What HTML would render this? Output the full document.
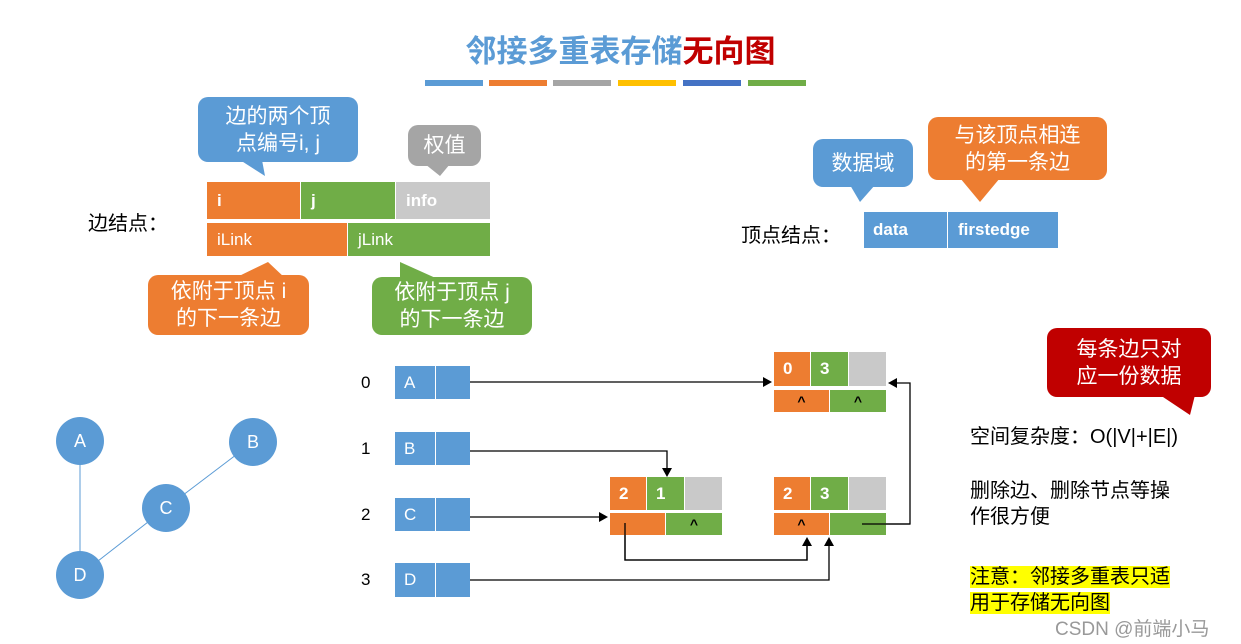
<!DOCTYPE html>
<html><head><meta charset="utf-8"><style>
body{margin:0;width:1241px;height:644px;background:#fff;position:relative;overflow:hidden;font-family:"Liberation Sans","Noto Sans CJK SC",sans-serif}
.a{position:absolute}
.c{position:absolute;display:flex;align-items:center;box-sizing:border-box;color:#fff;font-weight:bold;font-size:17px}
.t{position:absolute;color:#fff;text-align:center;font-size:21px;line-height:27px;border-radius:10px;box-sizing:border-box;display:flex;align-items:center;justify-content:center}
.o{background:#ed7d31}.g{background:#70ad47}.y{background:#c9c9c9}.b{background:#5b9bd5}
</style></head><body>
<div class="a" style="left:0;width:1241px;top:26px;text-align:center;font-size:31px;font-weight:bold;color:#5b9bd5">邻接多重表存储<span style="color:#c00000">无向图</span></div>
<div class="a" style="left:425px;top:80px;width:58px;height:6px;background:#5b9bd5"></div>
<div class="a" style="left:489px;top:80px;width:58px;height:6px;background:#ed7d31"></div>
<div class="a" style="left:553px;top:80px;width:58px;height:6px;background:#a5a5a5"></div>
<div class="a" style="left:618px;top:80px;width:58px;height:6px;background:#ffc000"></div>
<div class="a" style="left:683px;top:80px;width:58px;height:6px;background:#4472c4"></div>
<div class="a" style="left:748px;top:80px;width:58px;height:6px;background:#70ad47"></div>

<svg class="a" style="left:0;top:0" width="1241" height="644">
<polygon points="240,160 262,160 265,176" fill="#5b9bd5"/>
<polygon points="425,164 450,164 440,176" fill="#a5a5a5"/>
<polygon points="235,278 285,278 268,262" fill="#ed7d31"/>
<polygon points="400,280 440,280 400,262" fill="#70ad47"/>
<polygon points="850,185 875,185 860,202" fill="#5b9bd5"/>
<polygon points="960,178 1000,178 980,202" fill="#ed7d31"/>
<polygon points="1160,395 1195,395 1190,415" fill="#c00000"/>
<g stroke="#5b9bd5" stroke-width="1">
<line x1="80" y1="441" x2="80" y2="575"/><line x1="253" y1="442" x2="166" y2="508"/><line x1="166" y1="508" x2="80" y2="575"/></g>
<g stroke="#000" stroke-width="1.3" fill="none">
<polyline points="462,382 765,382"/>
<polyline points="462,451 667,451 667,470"/>
<polyline points="462,517 600,517"/>
<polyline points="462,580 829,580 829,545"/>
<polyline points="625,523 625,560 807,560 807,545"/>
<polyline points="862,524 910,524 910,383 895,383"/>
</g>
<g fill="#000">
<polygon points="772,382 763,377 763,387"/>
<polygon points="667,477 662,468 672,468"/>
<polygon points="608,517 599,512 599,522"/>
<polygon points="829,537 824,546 834,546"/>
<polygon points="807,537 802,546 812,546"/>
<polygon points="888,383 897,378 897,388"/>
</g>
<g fill="#5b9bd5"><circle cx="80" cy="441" r="24"/><circle cx="253" cy="442" r="24"/><circle cx="166" cy="508" r="24"/><circle cx="80" cy="575" r="24"/></g>
<g fill="#fff" font-size="18" text-anchor="middle" font-family="Liberation Sans"><text x="80" y="447">A</text><text x="253" y="448">B</text><text x="166" y="514">C</text><text x="80" y="581">D</text></g>
</svg>

<div class="t b" style="left:198px;top:97px;width:160px;height:65px">边的两个顶<br>点编号i, j</div>
<div class="t" style="left:408px;top:125px;width:73px;height:41px;background:#a5a5a5">权值</div>
<div class="t o" style="left:148px;top:275px;width:161px;height:60px">依附于顶点 i<br>的下一条边</div>
<div class="t g" style="left:372px;top:277px;width:160px;height:58px">依附于顶点 j<br>的下一条边</div>
<div class="t b" style="left:813px;top:139px;width:100px;height:48px">数据域</div>
<div class="t o" style="left:928px;top:117px;width:179px;height:63px">与该顶点相连<br>的第一条边</div>
<div class="t" style="left:1047px;top:328px;width:164px;height:69px;background:#c00000">每条边只对<br>应一份数据</div>

<div class="a" style="left:88px;top:207px;font-size:20px">边结点：</div>
<div class="c o" style="left:207px;top:182px;width:93px;height:37px;padding-left:10px">i</div>
<div class="c g" style="left:301px;top:182px;width:94px;height:37px;padding-left:10px">j</div>
<div class="c y" style="left:396px;top:182px;width:94px;height:37px;padding-left:10px">info</div>
<div class="c o" style="left:207px;top:223px;width:140px;height:33px;padding-left:10px;font-weight:normal">iLink</div>
<div class="c g" style="left:348px;top:223px;width:142px;height:33px;padding-left:10px;font-weight:normal">jLink</div>

<div class="a" style="left:741px;top:219px;font-size:20px">顶点结点：</div>
<div class="c b" style="left:864px;top:212px;width:83px;height:36px;padding-left:9px">data</div>
<div class="c b" style="left:948px;top:212px;width:110px;height:36px;padding-left:10px">firstedge</div>

<div class="a" style="left:361px;top:373px;font-size:17px">0</div>
<div class="a" style="left:361px;top:439px;font-size:17px">1</div>
<div class="a" style="left:361px;top:505px;font-size:17px">2</div>
<div class="a" style="left:361px;top:570px;font-size:17px">3</div>
<div class="c b" style="left:395px;top:366px;width:40px;height:33px;padding-left:9px;font-weight:normal">A</div><div class="c b" style="left:436px;top:366px;width:34px;height:33px"></div>
<div class="c b" style="left:395px;top:432px;width:40px;height:33px;padding-left:9px;font-weight:normal">B</div><div class="c b" style="left:436px;top:432px;width:34px;height:33px"></div>
<div class="c b" style="left:395px;top:498px;width:40px;height:33px;padding-left:9px;font-weight:normal">C</div><div class="c b" style="left:436px;top:498px;width:34px;height:33px"></div>
<div class="c b" style="left:395px;top:563px;width:40px;height:34px;padding-left:9px;font-weight:normal">D</div><div class="c b" style="left:436px;top:563px;width:34px;height:34px"></div>

<div class="c o" style="left:774px;top:352px;width:36px;height:34px;padding-left:9px">0</div>
<div class="c g" style="left:811px;top:352px;width:37px;height:34px;padding-left:9px">3</div>
<div class="c y" style="left:849px;top:352px;width:37px;height:34px"></div>
<div class="c o" style="left:774px;top:390px;width:55px;height:22px;justify-content:center;color:#000;font-size:14px">^</div>
<div class="c g" style="left:830px;top:390px;width:56px;height:22px;justify-content:center;color:#000;font-size:14px">^</div>

<div class="c o" style="left:610px;top:477px;width:36px;height:33px;padding-left:9px">2</div>
<div class="c g" style="left:647px;top:477px;width:37px;height:33px;padding-left:9px">1</div>
<div class="c y" style="left:685px;top:477px;width:37px;height:33px"></div>
<div class="c o" style="left:610px;top:513px;width:55px;height:22px"></div>
<div class="c g" style="left:666px;top:513px;width:56px;height:22px;justify-content:center;color:#000;font-size:14px">^</div>

<div class="c o" style="left:774px;top:477px;width:36px;height:33px;padding-left:9px">2</div>
<div class="c g" style="left:811px;top:477px;width:37px;height:33px;padding-left:9px">3</div>
<div class="c y" style="left:849px;top:477px;width:37px;height:33px"></div>
<div class="c o" style="left:774px;top:513px;width:55px;height:22px;justify-content:center;color:#000;font-size:14px">^</div>
<div class="c g" style="left:830px;top:513px;width:56px;height:22px"></div>

<svg class="a" style="left:0;top:0" width="1241" height="644"><g stroke="#000" stroke-width="1.3" fill="none"><polyline points="625,523 625,560 807,560 807,545"/><polyline points="862,524 910,524"/></g></svg>

<div class="a" style="left:970px;top:420px;font-size:20px">空间复杂度：O(|V|+|E|)</div>
<div class="a" style="left:970px;top:478px;font-size:20px;line-height:26px">删除边、删除节点等操<br>作很方便</div>
<div class="a" style="left:970px;top:564px;font-size:20px;line-height:26px"><span style="background:#ffff00">注意：邻接多重表只适</span><br><span style="background:#ffff00">用于存储无向图</span></div>
<div class="a" style="left:1055px;top:614px;font-size:19px;color:#999">CSDN @前端小马</div>
</body></html>
